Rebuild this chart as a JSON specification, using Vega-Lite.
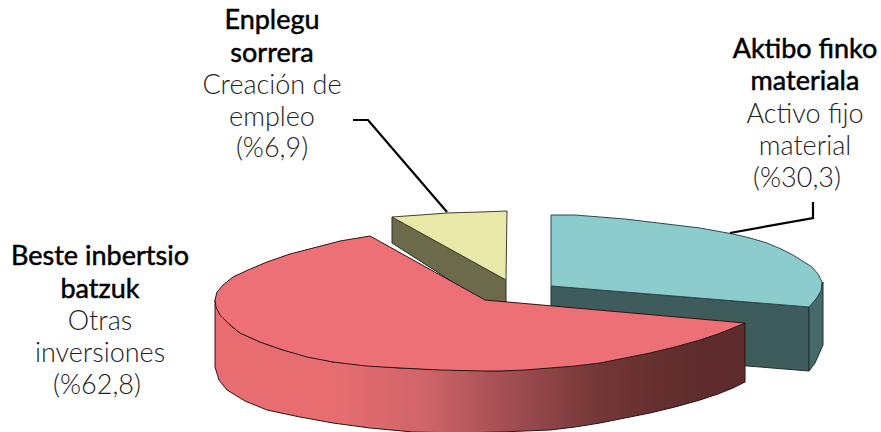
{
"$schema":"https://vega.github.io/schema/vega-lite/v6.json",
"width":881,"height":432,"autosize":{"type":"none"},"padding":0,
"background":"white","view":{"stroke":null},
"datasets":{
"labels":[
{"slice":"Enplegu sorrera","share":6.9,"kind":"eu","t":"Enplegu","x":272,"y":29},
{"slice":"Enplegu sorrera","share":6.9,"kind":"eu","t":"sorrera","x":272,"y":62},
{"slice":"Enplegu sorrera","share":6.9,"kind":"es","t":"Creación de","x":272,"y":94},
{"slice":"Enplegu sorrera","share":6.9,"kind":"es","t":"empleo","x":272,"y":126},
{"slice":"Enplegu sorrera","share":6.9,"kind":"es","t":"(%6,9)","x":272,"y":157},
{"slice":"Aktibo finko materiala","share":30.3,"kind":"eu","t":"Aktibo finko","x":805,"y":58},
{"slice":"Aktibo finko materiala","share":30.3,"kind":"eu","t":"materiala","x":805,"y":90},
{"slice":"Aktibo finko materiala","share":30.3,"kind":"es","t":"Activo fijo","x":805,"y":123},
{"slice":"Aktibo finko materiala","share":30.3,"kind":"es","t":"material","x":805,"y":155},
{"slice":"Aktibo finko materiala","share":30.3,"kind":"es","t":"(%30,3)","x":797,"y":187},
{"slice":"Beste inbertsio batzuk","share":62.8,"kind":"eu","t":"Beste inbertsio","x":100,"y":265},
{"slice":"Beste inbertsio batzuk","share":62.8,"kind":"eu","t":"batzuk","x":100,"y":298},
{"slice":"Beste inbertsio batzuk","share":62.8,"kind":"es","t":"Otras","x":100,"y":330},
{"slice":"Beste inbertsio batzuk","share":62.8,"kind":"es","t":"inversiones","x":100,"y":362},
{"slice":"Beste inbertsio batzuk","share":62.8,"kind":"es","t":"(%62,8)","x":97,"y":394}
],
"leaders":[
{"id":"a","i":1,"x":353,"y":120},{"id":"a","i":2,"x":368,"y":120},{"id":"a","i":3,"x":447,"y":212},
{"id":"b","i":1,"x":813,"y":202},{"id":"b","i":2,"x":813,"y":218},{"id":"b","i":3,"x":730,"y":233}
],
"tealSide":[{"i":1,"x":551,"y":286},{"i":2,"x":809,"y":307},{"i":3,"x":809,"y":371},{"i":4,"x":551,"y":350},{"i":5,"x":551,"y":286}],
"tealRim":[{"i":1,"x":809,"y":307},{"i":2,"x":820,"y":293},{"i":3,"x":823,"y":282},{"i":4,"x":823,"y":345},{"i":5,"x":815,"y":363},{"i":6,"x":809,"y":371},{"i":7,"x":809,"y":307}],
"tealTop":[{"i":1,"x":551,"y":215},{"i":2,"x":575,"y":215},{"i":3,"x":600,"y":217},{"i":4,"x":625,"y":219},{"i":5,"x":650,"y":222},{"i":6,"x":675,"y":225},{"i":7,"x":700,"y":228},{"i":8,"x":733,"y":234},{"i":9,"x":750,"y":238},{"i":10,"x":767,"y":243},{"i":11,"x":781,"y":249},{"i":12,"x":793,"y":255},{"i":13,"x":804,"y":262},{"i":14,"x":812,"y":267},{"i":15,"x":818,"y":274},{"i":16,"x":822,"y":282},{"i":17,"x":821,"y":291},{"i":18,"x":816,"y":299},{"i":19,"x":809,"y":307},{"i":20,"x":551,"y":286},{"i":21,"x":551,"y":215}],
"yellowSide":[{"i":1,"x":392,"y":217},{"i":2,"x":506,"y":280},{"i":3,"x":506,"y":302},{"i":4,"x":484,"y":302},{"i":5,"x":392,"y":243},{"i":6,"x":392,"y":217}],
"yellowTop":[{"i":1,"x":392,"y":217},{"i":2,"x":420,"y":215},{"i":3,"x":447,"y":213},{"i":4,"x":480,"y":212},{"i":5,"x":507,"y":211},{"i":6,"x":506,"y":280},{"i":7,"x":392,"y":217}],
"redSide":[{"i":1,"x":215,"y":300},{"i":2,"x":220,"y":315},{"i":3,"x":229,"y":324},{"i":4,"x":240,"y":333},{"i":5,"x":260,"y":342},{"i":6,"x":283,"y":350},{"i":7,"x":333,"y":362},{"i":8,"x":400,"y":368},{"i":9,"x":500,"y":371},{"i":10,"x":600,"y":363},{"i":11,"x":700,"y":340},{"i":12,"x":745,"y":323},{"i":13,"x":745,"y":382},{"i":14,"x":733,"y":388},{"i":15,"x":718,"y":394},{"i":16,"x":700,"y":400},{"i":17,"x":675,"y":407},{"i":18,"x":650,"y":413},{"i":19,"x":625,"y":418},{"i":20,"x":600,"y":423},{"i":21,"x":575,"y":427},{"i":22,"x":550,"y":430},{"i":23,"x":525,"y":431},{"i":24,"x":500,"y":432},{"i":25,"x":460,"y":433},{"i":26,"x":413,"y":432},{"i":27,"x":370,"y":428},{"i":28,"x":333,"y":423},{"i":29,"x":300,"y":417},{"i":30,"x":267,"y":410},{"i":31,"x":245,"y":401},{"i":32,"x":227,"y":390},{"i":33,"x":219,"y":380},{"i":34,"x":215,"y":367},{"i":35,"x":215,"y":300}],
"redTop":[{"i":1,"x":370,"y":236},{"i":2,"x":340,"y":241},{"i":3,"x":317,"y":247},{"i":4,"x":290,"y":254},{"i":5,"x":267,"y":262},{"i":6,"x":248,"y":270},{"i":7,"x":233,"y":277},{"i":8,"x":223,"y":285},{"i":9,"x":217,"y":292},{"i":10,"x":215,"y":300},{"i":11,"x":216,"y":307},{"i":12,"x":220,"y":315},{"i":13,"x":229,"y":324},{"i":14,"x":240,"y":333},{"i":15,"x":260,"y":342},{"i":16,"x":283,"y":350},{"i":17,"x":307,"y":357},{"i":18,"x":333,"y":362},{"i":19,"x":366,"y":366},{"i":20,"x":400,"y":368},{"i":21,"x":440,"y":370},{"i":22,"x":483,"y":371},{"i":23,"x":500,"y":371},{"i":24,"x":525,"y":370},{"i":25,"x":550,"y":368},{"i":26,"x":575,"y":366},{"i":27,"x":600,"y":363},{"i":28,"x":625,"y":358},{"i":29,"x":650,"y":353},{"i":30,"x":675,"y":347},{"i":31,"x":700,"y":340},{"i":32,"x":718,"y":334},{"i":33,"x":733,"y":328},{"i":34,"x":745,"y":323},{"i":35,"x":485,"y":300},{"i":36,"x":370,"y":236}]
},
"encoding":{
"x":{"field":"x","type":"quantitative","scale":{"domain":[0,881]},"axis":null},
"y":{"field":"y","type":"quantitative","scale":{"domain":[432,0]},"axis":null}
},
"layer":[
{"data":{"name":"tealSide"},"mark":{"type":"line","fill":"#3f5c5c","stroke":"#1f3030","strokeWidth":1},"encoding":{"order":{"field":"i"}}},
{"data":{"name":"tealRim"},"mark":{"type":"line","fill":"#48696a","stroke":"#1f3030","strokeWidth":1},"encoding":{"order":{"field":"i"}}},
{"data":{"name":"tealTop"},"mark":{"type":"line","fill":"#8ccccc","stroke":"#2f4a4a","strokeWidth":1},"encoding":{"order":{"field":"i"}}},
{"data":{"name":"yellowSide"},"mark":{"type":"line","fill":"#6b6b4c","stroke":"#2f2f20","strokeWidth":1},"encoding":{"order":{"field":"i"}}},
{"data":{"name":"yellowTop"},"mark":{"type":"line","fill":"#e8e8a8","stroke":"#3f4030","strokeWidth":1},"encoding":{"order":{"field":"i"}}},
{"data":{"name":"redSide"},"mark":{"type":"line","stroke":"#2a1515","strokeWidth":1,"fill":{"gradient":"linear","x1":0,"y1":0,"x2":1,"y2":0,"stops":[{"offset":0,"color":"#e86d70"},{"offset":0.22,"color":"#e86d70"},{"offset":0.39,"color":"#d0656a"},{"offset":0.54,"color":"#a55055"},{"offset":0.73,"color":"#733636"},{"offset":0.91,"color":"#5e2c2c"},{"offset":1,"color":"#5e2c2c"}]}},"encoding":{"order":{"field":"i"}}},
{"data":{"name":"redTop"},"mark":{"type":"line","fill":"#ec7075","stroke":"#2a1515","strokeWidth":1},"encoding":{"order":{"field":"i"}}},
{"data":{"name":"leaders"},"mark":{"type":"line","stroke":"#000000","strokeWidth":2.2},"encoding":{"detail":{"field":"id"},"order":{"field":"i"}}},
{"data":{"name":"labels"},"transform":[{"filter":"datum.kind==='eu'"}],"mark":{"type":"text","font":"Lato","fontSize":27,"fontWeight":"normal","stroke":"#000000","strokeWidth":0.5,"align":"center","baseline":"alphabetic","fill":"#000000"},"encoding":{"text":{"field":"t"}}},
{"data":{"name":"labels"},"transform":[{"filter":"datum.kind==='es'"}],"mark":{"type":"text","font":"Lato","fontSize":27,"fontWeight":300,"align":"center","baseline":"alphabetic","fill":"#222222"},"encoding":{"text":{"field":"t"}}}
]
}
